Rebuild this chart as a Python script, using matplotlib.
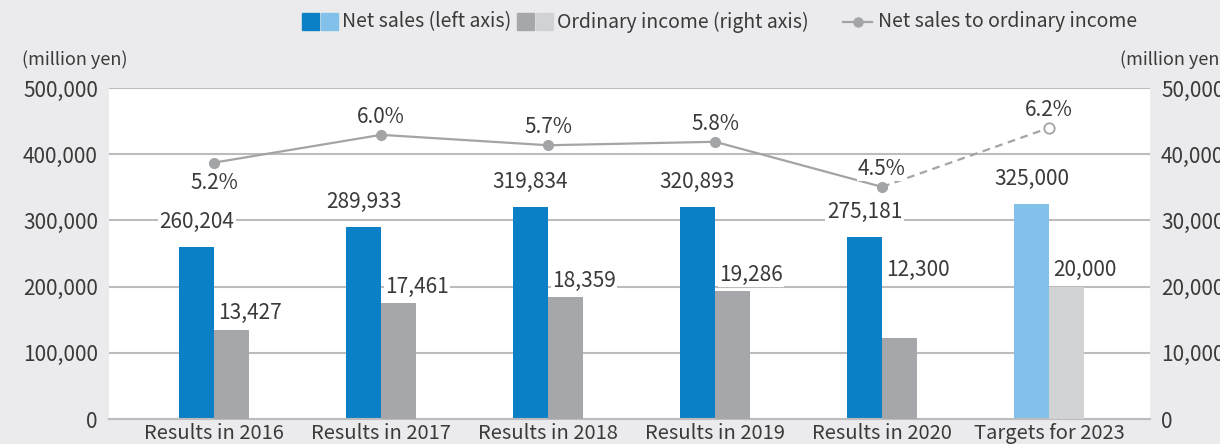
import matplotlib
matplotlib.use("Agg")
import matplotlib.pyplot as plt
from matplotlib.patches import Rectangle
from matplotlib.lines import Line2D

plt.rcParams["font.family"] = ["Noto Sans CJK JP", "DejaVu Sans"]

categories = ["Results in 2016", "Results in 2017", "Results in 2018",
              "Results in 2019", "Results in 2020", "Targets for 2023"]
net_sales = [260204, 289933, 319834, 320893, 275181, 325000]
ordinary_income = [13427, 17461, 18359, 19286, 12300, 20000]
ratio = [5.2, 6.0, 5.7, 5.8, 4.5, 6.2]
ratio_labels = ["5.2%", "6.0%", "5.7%", "5.8%", "4.5%", "6.2%"]
left_ticks = [0, 100000, 200000, 300000, 400000, 500000]
right_ticks = [0, 10000, 20000, 30000, 40000, 50000]

BG = "#ebebed"
BLUE, BLUE_T = "#0b80c6", "#82c1ea"
GRAY, GRAY_T = "#a6a7aa", "#d1d2d4"
LINE = "#a3a4a6"
TXT = "#3a3a3a"
GRID = "#bcbcbe"
FS = 15

W, H = 1220, 444
fig = plt.figure(figsize=(W / 100, H / 100), dpi=100)
fig.patch.set_facecolor(BG)
ax = fig.add_axes([109 / W, (H - 419) / H, (1150 - 109) / W, (419 - 88) / H])
ax2 = ax.twinx()
ax3 = ax.twinx()

x = list(range(len(categories)))
bw = 0.21
n = len(categories)
bar_c = [BLUE] * (n - 1) + [BLUE_T]
oi_c = [GRAY] * (n - 1) + [GRAY_T]

ax.set_facecolor("white")
ax.set_xlim(-0.63, 5.605)
ax.set_ylim(0, 500000)
ax2.set_ylim(0, 50000)
ax3.set_ylim(-2.19, 7.35)

ax.set_yticks(left_ticks)
ax.set_yticklabels([f"{v:,}" for v in left_ticks])
ax2.set_yticks(right_ticks)
ax2.set_yticklabels([f"{v:,}" for v in right_ticks])
ax.yaxis.grid(True, color=GRID, lw=1.5, zorder=0)
ax.set_axisbelow(True)
for a in (ax, ax2, ax3):
    for s in a.spines.values():
        s.set_visible(False)
ax.spines["bottom"].set_visible(True)
ax.spines["bottom"].set_color(GRID)
ax.spines["bottom"].set_linewidth(1.5)
ax.tick_params(axis="y", length=0, pad=8, labelsize=FS, labelcolor=TXT)
ax2.tick_params(axis="y", length=0, pad=8, labelsize=FS, labelcolor=TXT)
ax.set_xticks(x)
ax.set_xticklabels(categories)
ax.tick_params(axis="x", length=0, pad=3, labelsize=14.5, labelcolor=TXT)
ax3.set_yticks([])
ax3.patch.set_visible(False)
ax2.patch.set_visible(False)

ax.bar([i - bw / 2 for i in x], net_sales, bw, color=bar_c, zorder=2)
ax2.bar([i + bw / 2 for i in x], ordinary_income, bw, color=oi_c, zorder=2)

ax3.plot(x[:-1], ratio[:-1], color=LINE, lw=1.6, marker="o", ms=7, zorder=4)
ax3.plot(x[-2:], ratio[-2:], color=LINE, lw=1.6, ls=(0, (3.5, 2.5)), zorder=4)
ax3.plot(x[-1], ratio[-1], marker="o", ms=7.5, mfc="white", mec=LINE, mew=1.3, zorder=5)

box = dict(facecolor="white", edgecolor="none", pad=1)
for i, v in enumerate(net_sales):
    ax.annotate(f"{v:,}", (i - bw / 2, v), xytext=(0, 18), textcoords="offset points",
                ha="center", va="center", fontsize=FS, color=TXT, bbox=box, zorder=6)
for i, v in enumerate(ordinary_income):
    # the 2020 figure sits level with the 2023 target
    yv = ordinary_income[-1] if i == n - 2 else v
    ax2.annotate(f"{v:,}", (i + bw / 2 + 0.11, yv), xytext=(0, 12), textcoords="offset points",
                 ha="center", va="center", fontsize=FS, color=TXT, bbox=box, zorder=6)
for i, v in enumerate(ratio):
    dy = -15 if i == 0 else 13
    ax3.annotate(ratio_labels[i], (i, v), xytext=(0, dy), textcoords="offset points",
                 ha="center", va="center", fontsize=FS, color=TXT, bbox=box, zorder=6)

fig.text(22 / W, 1 - 60 / H, "(million yen)", fontsize=13, color=TXT, va="center", ha="left")
fig.text(1120 / W, 1 - 60 / H, "(million yen)", fontsize=13, color=TXT, va="center", ha="left")

# legend
ly = 1 - 22 / H
sq = 17
for x0, c in [(302, BLUE), (321, BLUE_T), (517, GRAY), (536, GRAY_T)]:
    fig.patches.append(Rectangle((x0 / W, ly - sq / 2 / H), sq / W, sq / H,
                                 transform=fig.transFigure, color=c))
fig.text(342 / W, ly, "Net sales (left axis)", fontsize=14, color=TXT, va="center")
fig.text(557 / W, ly, "Ordinary income (right axis)", fontsize=14, color=TXT, va="center")
fig.lines.append(Line2D([843 / W, 872 / W], [ly, ly], transform=fig.transFigure,
                        color=LINE, lw=1.6))
fig.lines.append(Line2D([857.5 / W], [ly], transform=fig.transFigure,
                        color=LINE, marker="o", ms=6.5, lw=0))
fig.text(878 / W, ly, "Net sales to ordinary income", fontsize=14, color=TXT, va="center")

fig.savefig("out.png", dpi=100, facecolor=BG)
